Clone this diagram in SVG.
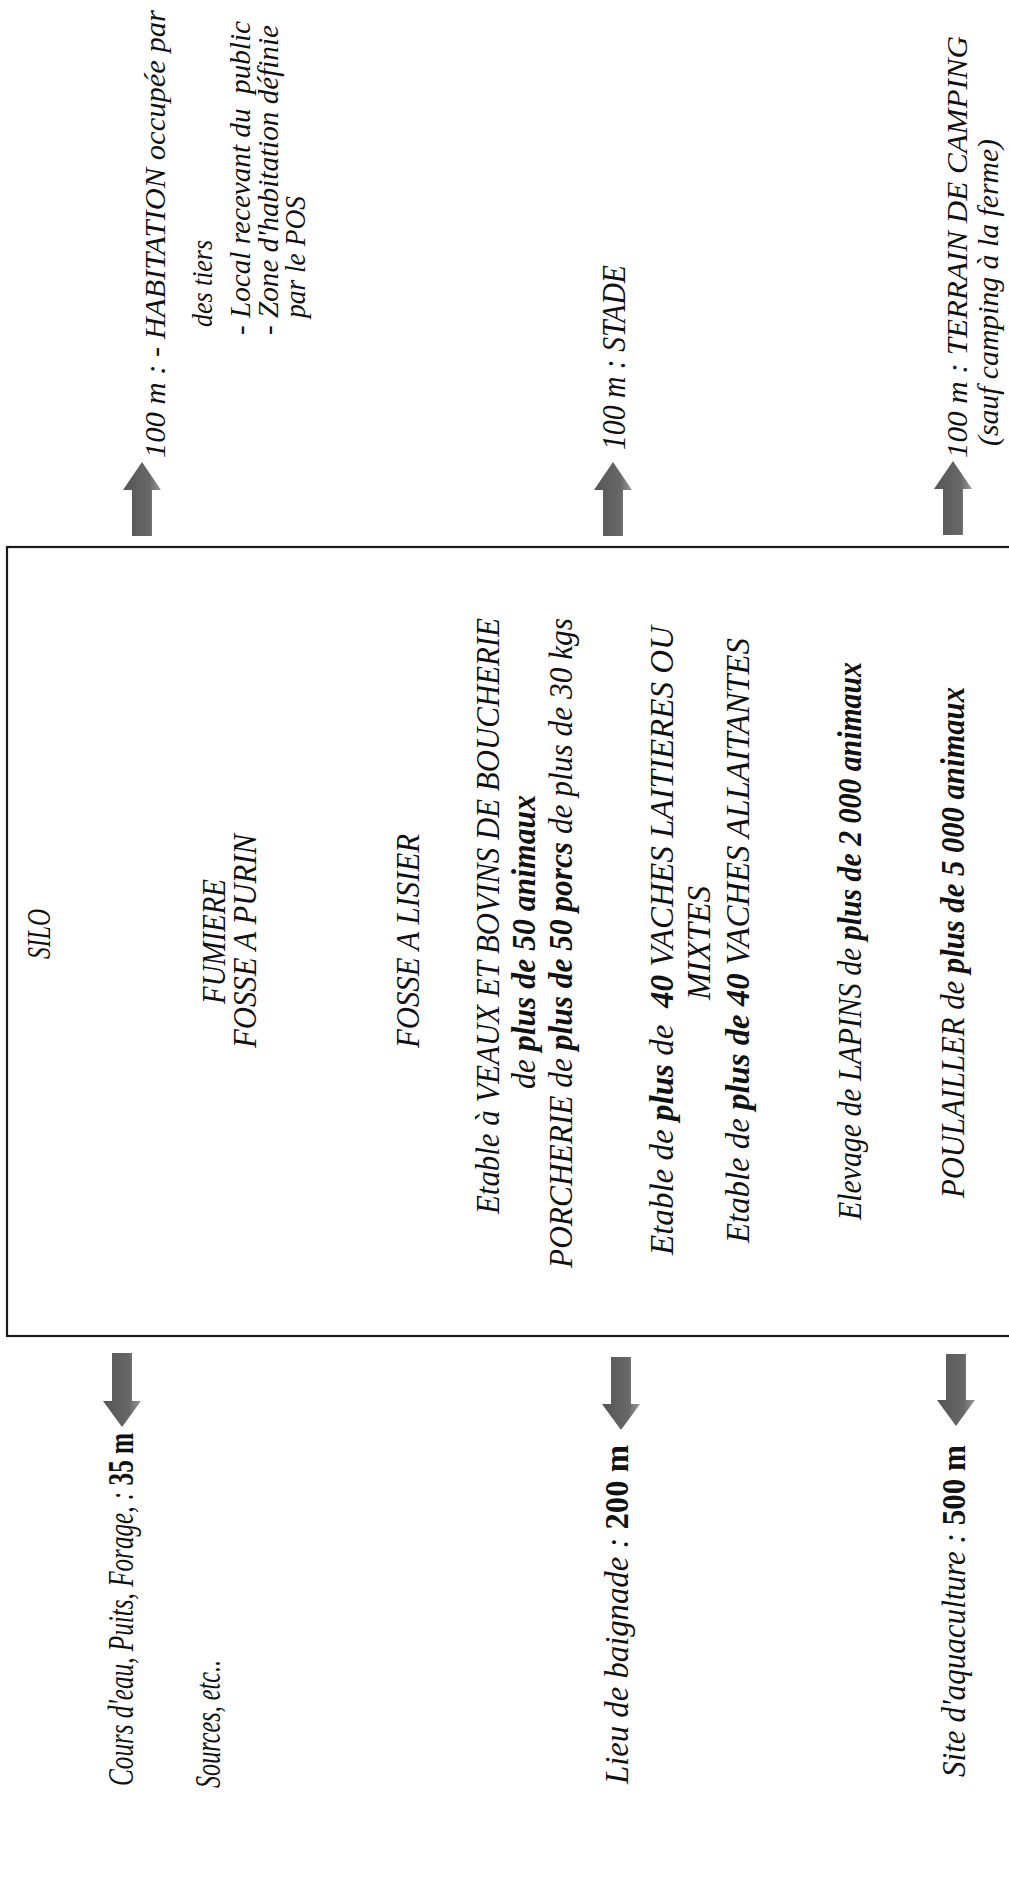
<svg xmlns="http://www.w3.org/2000/svg" width="1009" height="1880" viewBox="0 0 1009 1880">
<style>
.t{font-family:"Liberation Serif","Times New Roman",serif;font-style:italic;font-size:33px;fill:#111;white-space:pre}
.s{font-size:30px}
.l{font-size:35px}
.b{font-weight:bold}
.n{font-style:normal;font-weight:bold}
.box{fill:none;stroke:#1a1a1a;stroke-width:2.2}
.arr{fill:url(#g);stroke:none}
</style>
<defs>
<linearGradient id="g" x1="0" y1="0" x2="1" y2="0">
<stop offset="0" stop-color="#555"/>
<stop offset="0.7" stop-color="#686868"/>
<stop offset="1" stop-color="#999"/>
</linearGradient>
</defs>
<rect width="1009" height="1880" fill="#fff"/>

<g id="box"><rect class="box" x="7" y="547" width="1010" height="789"/></g>

<g id="connectors">
<path class="arr" d="M142 462 L161 490 L152 490 L152 536 L132 536 L132 490 L123 490 Z"/>
<path class="arr" d="M613 462 L632 490 L623 490 L623 536 L603 536 L603 490 L594 490 Z"/>
<path class="arr" d="M953 461 L972 489 L963 489 L963 535 L943 535 L943 489 L934 489 Z"/>
<path class="arr" d="M122 1427 L141 1401 L132 1401 L132 1353 L112 1353 L112 1401 L103 1401 Z"/>
<path class="arr" d="M621 1430 L640 1404 L631 1404 L631 1357 L611 1357 L611 1404 L602 1404 Z"/>
<path class="arr" d="M956 1426 L975 1400 L966 1400 L966 1354 L946 1354 L946 1400 L937 1400 Z"/>
</g>

<g id="habitation">
<text class="t s" transform="translate(165,458) rotate(-90)" textLength="448" lengthAdjust="spacingAndGlyphs">100 m : - HABITATION occupée par</text>
<text class="t s" transform="translate(212,327) rotate(-90)" textLength="87" lengthAdjust="spacingAndGlyphs">des tiers</text>
<text class="t s" transform="translate(250,335) rotate(-90)" textLength="314" lengthAdjust="spacingAndGlyphs">- Local recevant du  public</text>
<text class="t s" transform="translate(278,335) rotate(-90)" textLength="310" lengthAdjust="spacingAndGlyphs">- Zone d'habitation définie</text>
<text class="t s" transform="translate(305,318) rotate(-90)" textLength="122" lengthAdjust="spacingAndGlyphs">par le POS</text>
</g>

<g id="stade">
<text class="t" transform="translate(625,450) rotate(-90)" textLength="185" lengthAdjust="spacingAndGlyphs">100 m : STADE</text>
</g>

<g id="camping">
<text class="t s" transform="translate(967,458) rotate(-90)" textLength="422" lengthAdjust="spacingAndGlyphs">100 m : TERRAIN DE CAMPING</text>
<text class="t s" transform="translate(998,446) rotate(-90)" textLength="307" lengthAdjust="spacingAndGlyphs">(sauf camping à la ferme)</text>
</g>

<g id="sources">
<text class="t l" transform="translate(133,1786) rotate(-90)" textLength="353" lengthAdjust="spacingAndGlyphs">Cours d'eau, Puits, Forage, : <tspan class="n">35 m</tspan></text>
<text class="t l" transform="translate(220,1788) rotate(-90)" textLength="128" lengthAdjust="spacingAndGlyphs">Sources, etc..</text>
</g>

<g id="baignade">
<text class="t" transform="translate(628,1784) rotate(-90)" textLength="339" lengthAdjust="spacingAndGlyphs">Lieu de baignade : <tspan class="n">200 m</tspan></text>
</g>

<g id="aquaculture">
<text class="t" transform="translate(965,1777) rotate(-90)" textLength="332" lengthAdjust="spacingAndGlyphs">Site d'aquaculture : <tspan class="n">500 m</tspan></text>
</g>

<g id="sources-pollution">
<text class="t" transform="translate(50,959) rotate(-90)" textLength="50" lengthAdjust="spacingAndGlyphs">SILO</text>
<text class="t" transform="translate(225,1004) rotate(-90)" textLength="125" lengthAdjust="spacingAndGlyphs">FUMIERE</text>
<text class="t" transform="translate(256,1048) rotate(-90)" textLength="214" lengthAdjust="spacingAndGlyphs">FOSSE A PURIN</text>
<text class="t" transform="translate(419,1048) rotate(-90)" textLength="214" lengthAdjust="spacingAndGlyphs">FOSSE A LISIER</text>
<text class="t" transform="translate(499,1214) rotate(-90)" textLength="596" lengthAdjust="spacingAndGlyphs">Etable à VEAUX ET BOVINS DE BOUCHERIE</text>
<text class="t" transform="translate(535,1089) rotate(-90)" textLength="294" lengthAdjust="spacingAndGlyphs">de <tspan class="b">plus de 50 animaux</tspan></text>
<text class="t" transform="translate(572,1268) rotate(-90)" textLength="650" lengthAdjust="spacingAndGlyphs">PORCHERIE de <tspan class="b">plus de 50 porcs</tspan> de plus de 30 kgs</text>
<text class="t" transform="translate(673,1255) rotate(-90)" textLength="629" lengthAdjust="spacingAndGlyphs">Etable de <tspan class="b">plus</tspan> de  <tspan class="b">40</tspan> VACHES LAITIERES OU</text>
<text class="t" transform="translate(710,1000) rotate(-90)" textLength="114" lengthAdjust="spacingAndGlyphs">MIXTES</text>
<text class="t" transform="translate(749,1243) rotate(-90)" textLength="605" lengthAdjust="spacingAndGlyphs">Etable de <tspan class="b">plus de 40</tspan> VACHES ALLAITANTES</text>
<text class="t" transform="translate(861,1220) rotate(-90)" textLength="558" lengthAdjust="spacingAndGlyphs">Elevage de LAPINS de <tspan class="b">plus de 2 000 animaux</tspan></text>
<text class="t" transform="translate(964,1198) rotate(-90)" textLength="511" lengthAdjust="spacingAndGlyphs">POULAILLER de <tspan class="b">plus de 5 000 animaux</tspan></text>
</g>
</svg>
